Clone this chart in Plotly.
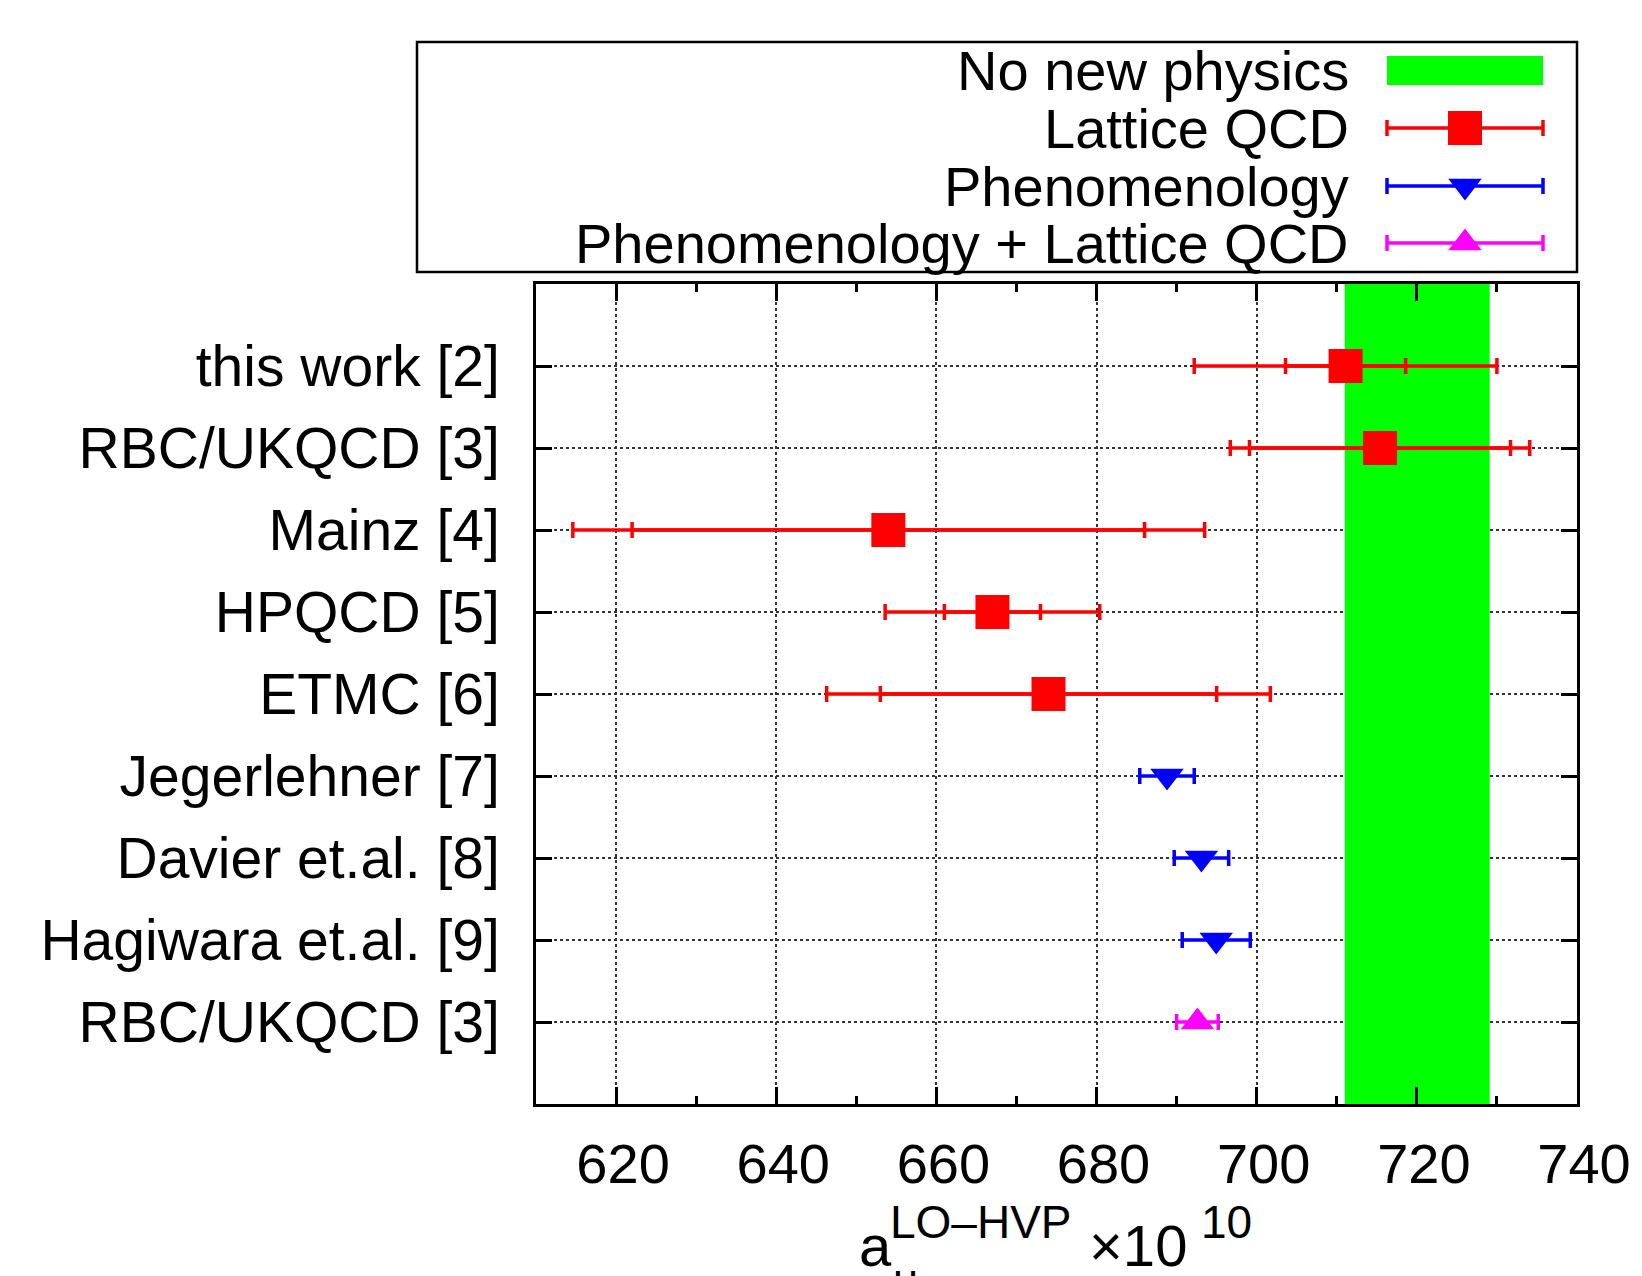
import plotly.graph_objects as go

W, H = 1642, 1276
FONT = "Liberation Sans, Arial, Helvetica, sans-serif"

# ---------------- data ----------------
labels = ["this work [2]", "RBC/UKQCD [3]", "Mainz [4]", "HPQCD [5]", "ETMC [6]",
          "Jegerlehner [7]", "Davier et.al. [8]", "Hagiwara et.al. [9]", "RBC/UKQCD [3]"]
rows = [1, 2, 3, 4, 5, 6, 7, 8, 9]

# Lattice QCD (inner = statistical, outer = total)
lat_rows = [1, 2, 3, 4, 5]
lat_val = [711.1, 715.4, 654.0, 667.0, 674.0]
lat_inner = [7.5, 16.3, 32.0, 6.0, 21.0]
lat_outer_plus = [18.9, 18.7, 39.5, 13.4, 27.7]
lat_outer_minus = [18.9, 18.7, 39.4, 13.4, 27.7]

# Phenomenology
phen_rows = [6, 7, 8]
phen_val = [688.8, 693.1, 694.95]
phen_err = [3.4, 3.4, 4.25]

# Phenomenology + Lattice QCD
comb_rows = [9]
comb_val = [692.6]
comb_err = [2.6]

# No new physics band
band = [711.0, 729.1]

x_range = [610, 740]
x_ticks = [620, 640, 660, 680, 700, 720, 740]
y_range = [10, 0]

legend_names = ["No new physics", "Lattice QCD", "Phenomenology", "Phenomenology + Lattice QCD"]

RED, BLUE, MAG, GREEN = "#ff0000", "#0000ff", "#ff00ff", "#00ff00"

# ---------------- layout helpers (pixel -> paper) ----------------
def px(x):
    return x / W

def py(y):
    return (H - y) / H

PL, PR, PT, PB = 536, 1577, 284, 1104      # plot area
LL, LR, LT, LB = 417, 1577, 42, 272        # legend box

EB_T, EB_W = 3.5, 8

fig = go.Figure()

# green band
fig.add_trace(go.Scatter(
    x=[band[0], band[1], band[1], band[0], band[0]],
    y=[0, 0, 10, 10, 0], fill="toself", fillcolor=GREEN,
    mode="lines", line=dict(width=0, color=GREEN), hoverinfo="skip",
    showlegend=False, xaxis="x", yaxis="y"))

# Lattice: outer (total) error bars
fig.add_trace(go.Scatter(
    x=lat_val, y=lat_rows, mode="markers",
    marker=dict(size=2, color="rgba(0,0,0,0)"),
    error_x=dict(type="data", symmetric=False, array=lat_outer_plus,
                 arrayminus=lat_outer_minus, color=RED, thickness=EB_T, width=EB_W),
    showlegend=False))
# Lattice: inner (stat) error bars + markers
fig.add_trace(go.Scatter(
    x=lat_val, y=lat_rows, mode="markers",
    marker=dict(symbol="square", size=34, color=RED, line=dict(width=0)),
    error_x=dict(type="data", array=lat_inner, color=RED, thickness=EB_T, width=EB_W),
    showlegend=False))
# Phenomenology
fig.add_trace(go.Scatter(
    x=phen_val, y=phen_rows, mode="markers",
    marker=dict(symbol="triangle-down", size=29, color=BLUE, line=dict(width=0)),
    error_x=dict(type="data", array=phen_err, color=BLUE, thickness=EB_T, width=EB_W),
    showlegend=False))
# Phenomenology + Lattice
fig.add_trace(go.Scatter(
    x=comb_val, y=comb_rows, mode="markers",
    marker=dict(symbol="triangle-up", size=29, color=MAG, line=dict(width=0)),
    error_x=dict(type="data", array=comb_err, color=MAG, thickness=EB_T, width=EB_W),
    showlegend=False))

# ---------------- legend (own pixel-unit axes) ----------------
leg_rows = [70, 128, 186, 243]
leg_sx0, leg_sx1 = 1387, 1543
leg_mid = 1465
leg_specs = [("square", 34, RED), ("triangle-down", 29, BLUE), ("triangle-up", 29, MAG)]
for (sym, sz, col), yy in zip(leg_specs, leg_rows[1:]):
    fig.add_trace(go.Scatter(
        x=[leg_mid], y=[yy], mode="markers", xaxis="x2", yaxis="y2",
        marker=dict(symbol=sym, size=sz, color=col, line=dict(width=0)),
        error_x=dict(type="data", symmetric=False, array=[leg_sx1 - leg_mid],
                     arrayminus=[leg_mid - leg_sx0], color=col, thickness=EB_T, width=EB_W),
        showlegend=False, hoverinfo="skip"))

fig.add_shape(type="rect", xref="x2", yref="y2", x0=leg_sx0, x1=leg_sx1, y0=56, y1=85,
              fillcolor=GREEN, line=dict(width=0))
fig.add_shape(type="rect", xref="x2 domain", yref="y2 domain", x0=0, x1=1, y0=0, y1=1,
              line=dict(color="black", width=2.5), fillcolor="rgba(0,0,0,0)")
for name, yy in zip(legend_names, leg_rows):
    fig.add_annotation(x=1351, y=yy, xref="x2", yref="y2", text=name, showarrow=False,
                       xanchor="right", yanchor="middle",
                       font=dict(family=FONT, size=56, color="black"))

# ---------------- axis title (stacked sub/superscripts, gnuplot style) ----------------
def title_piece(text, left, top, size):
    fig.add_annotation(x=px(left), y=py(top), xref="paper", yref="paper", text=text,
                       showarrow=False, xanchor="left", yanchor="top",
                       borderpad=0, font=dict(family=FONT, size=size, color="black"))

title_piece("a", 858, 1212, 58)
title_piece("LO\u2013HVP", 889, 1195, 46)
title_piece("\u00d710", 1088, 1212, 58)
title_piece("10", 1200, 1195, 46)
title_piece("\u03bc", 892, 1254, 44)

axis_common = dict(showline=True, linecolor="black", linewidth=2.5, mirror="allticks",
                   ticks="inside", tickcolor="black", tickwidth=2.5, automargin=False,
                   showgrid=True, gridcolor="#333333", gridwidth=1.5, griddash="dot",
                   zeroline=False)

fig.update_layout(
    width=W, height=H,
    margin=dict(l=0, r=0, t=0, b=0, autoexpand=False),
    paper_bgcolor="white", plot_bgcolor="white",
    showlegend=False,
    xaxis=dict(domain=[px(PL), px(PR)], range=x_range, tickvals=x_ticks,
               ticklen=17, ticklabelstandoff=9, ticklabelshift=7,
               tickfont=dict(family=FONT, size=56, color="black"),
               minor=dict(dtick=10, ticks="inside", ticklen=8, tickwidth=2.5,
                          tickcolor="black", showgrid=False),
               anchor="y", **axis_common),
    yaxis=dict(domain=[py(PB), py(PT)], range=y_range, tickvals=rows, ticktext=labels,
               ticklen=16, ticklabelstandoff=22,
               tickfont=dict(family=FONT, size=57, color="black"),
               anchor="x", **axis_common),
    xaxis2=dict(domain=[px(LL), px(LR)], range=[LL, LR], visible=False,
                anchor="y2", fixedrange=True),
    yaxis2=dict(domain=[py(LB), py(LT)], range=[LB, LT], visible=False,
                anchor="x2", fixedrange=True),
)

fig.write_html("out.html")
